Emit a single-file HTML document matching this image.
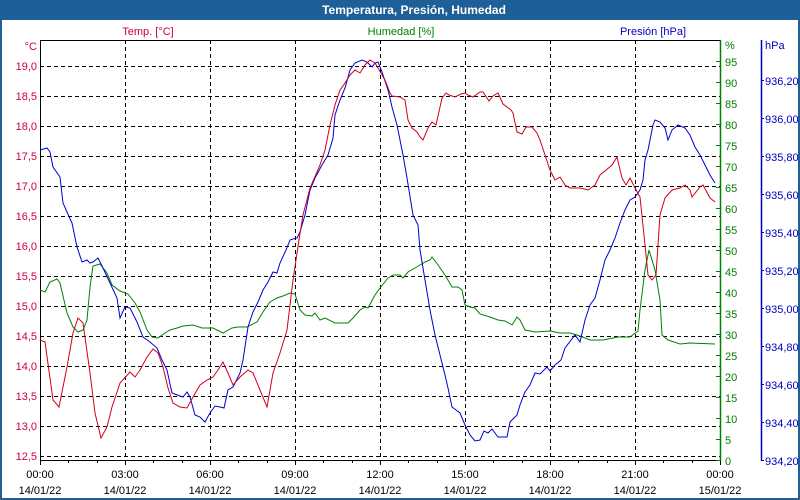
<!DOCTYPE html>
<html><head><meta charset="utf-8"><style>
html,body{margin:0;padding:0;background:#fff;}
svg{display:block;font-family:"Liberation Sans",sans-serif;}
</style></head><body>
<svg width="800" height="500" viewBox="0 0 800 500" xmlns="http://www.w3.org/2000/svg">
<rect x="0" y="0" width="800" height="500" fill="#fff"/>
<rect x="1" y="1" width="798" height="498" fill="none" stroke="#1f5f97" stroke-width="2"/>
<rect x="0" y="0" width="800" height="20" fill="#1f5f97"/>
<text x="414" y="14" fill="#fff" font-size="12" font-weight="bold" text-anchor="middle">Temperatura, Presión, Humedad</text>
<text x="148" y="35" fill="#d0003a" font-size="11" text-anchor="middle">Temp. [°C]</text>
<text x="401" y="35" fill="#008000" font-size="11" text-anchor="middle">Humedad [%]</text>
<text x="653" y="35" fill="#0000c0" font-size="11" text-anchor="middle">Presión [hPa]</text>
<g stroke="#000" stroke-width="1" stroke-dasharray="4,3" fill="none">
<path d="M40 66.5H720M40 96.5H720M40 126.5H720M40 156.5H720M40 186.5H720M40 216.5H720M40 246.5H720M40 276.5H720M40 306.5H720M40 336.5H720M40 366.5H720M40 396.5H720M40 426.5H720M40 456.5H720"/>
<path d="M125.5 40V460M210.5 40V460M295.5 40V460M380.5 40V460M465.5 40V460M550.5 40V460M635.5 40V460"/>
</g>
<path d="M40.5 40V460.5H720M40 40.5H720" stroke="#000" fill="none"/>
<g stroke="#000"><path d="M40.5 460v5M68.5 460v3M97.5 460v3M125.5 460v5M153.5 460v3M182.5 460v3M210.5 460v5M238.5 460v3M267.5 460v3M295.5 460v5M323.5 460v3M352.5 460v3M380.5 460v5M408.5 460v3M437.5 460v3M465.5 460v5M493.5 460v3M522.5 460v3M550.5 460v5M578.5 460v3M607.5 460v3M635.5 460v5M663.5 460v3M692.5 460v3M720.5 460v5"/></g>
<g fill="#d0003a" font-size="11" text-anchor="end">
<text x="37" y="50">°C</text>
<text x="37" y="70">19,0</text><text x="37" y="100">18,5</text><text x="37" y="130">18,0</text><text x="37" y="160">17,5</text><text x="37" y="190">17,0</text><text x="37" y="220">16,5</text><text x="37" y="250">16,0</text><text x="37" y="280">15,5</text><text x="37" y="310">15,0</text><text x="37" y="340">14,5</text><text x="37" y="370">14,0</text><text x="37" y="400">13,5</text><text x="37" y="430">13,0</text><text x="37" y="460">12,5</text>
</g>
<path d="M720.5 40V461" stroke="#008000" stroke-width="1.5"/>
<g stroke="#008000"><path d="M720 460.5h-4M720 439.5h-4M720 418.5h-4M720 397.5h-4M720 376.5h-4M720 355.5h-4M720 334.5h-4M720 313.5h-4M720 292.5h-4M720 271.5h-4M720 250.5h-4M720 229.5h-4M720 208.5h-4M720 187.5h-4M720 166.5h-4M720 145.5h-4M720 124.5h-4M720 103.5h-4M720 82.5h-4M720 61.5h-4"/></g>
<g fill="#008000" font-size="11">
<text x="725" y="49">%</text>
<text x="725" y="465">0</text><text x="725" y="444">5</text><text x="725" y="423">10</text><text x="725" y="402">15</text><text x="725" y="381">20</text><text x="725" y="360">25</text><text x="725" y="339">30</text><text x="725" y="318">35</text><text x="725" y="297">40</text><text x="725" y="276">45</text><text x="725" y="255">50</text><text x="725" y="234">55</text><text x="725" y="213">60</text><text x="725" y="192">65</text><text x="725" y="171">70</text><text x="725" y="150">75</text><text x="725" y="129">80</text><text x="725" y="108">85</text><text x="725" y="87">90</text><text x="725" y="66">95</text>
</g>
<path d="M761.5 40V461" stroke="#0000c0" stroke-width="1.5"/>
<g stroke="#0000c0"><path d="M761 460.5h3M761 422.5h3M761 384.5h3M761 346.5h3M761 308.5h3M761 270.5h3M761 232.5h3M761 194.5h3M761 156.5h3M761 118.5h3M761 80.5h3"/></g>
<g fill="#0000c0" font-size="11">
<text x="765" y="49">hPa</text>
<text x="765" y="465">934,20</text><text x="765" y="427">934,40</text><text x="765" y="389">934,60</text><text x="765" y="351">934,80</text><text x="765" y="313">935,00</text><text x="765" y="275">935,20</text><text x="765" y="237">935,40</text><text x="765" y="199">935,60</text><text x="765" y="161">935,80</text><text x="765" y="123">936,00</text><text x="765" y="85">936,20</text>
</g>
<g fill="#000" font-size="11" text-anchor="middle">
<text x="40" y="478">00:00</text><text x="40" y="494">14/01/22</text>
<text x="125" y="478">03:00</text><text x="125" y="494">14/01/22</text>
<text x="210" y="478">06:00</text><text x="210" y="494">14/01/22</text>
<text x="295" y="478">09:00</text><text x="295" y="494">14/01/22</text>
<text x="380" y="478">12:00</text><text x="380" y="494">14/01/22</text>
<text x="465" y="478">15:00</text><text x="465" y="494">14/01/22</text>
<text x="550" y="478">18:00</text><text x="550" y="494">14/01/22</text>
<text x="635" y="478">21:00</text><text x="635" y="494">14/01/22</text>
<text x="720" y="478">00:00</text><text x="720" y="494">15/01/22</text>
</g>
<polyline fill="none" stroke="#008000" stroke-width="1" points="40,290 45,292 50,282 57,279 60,283 67,313 73,327 78,332 83,330 87,320 90,287 93,266 100,264 107,273 112,285 120,291 128,294 135,303 140,312 147,330 152,337 158,338 165,333 170,330 177,328 183,326 193,325 202,328 213,328 223,333 232,328 238,327 247,327 257,322 263,312 270,302 277,298 283,296 290,293 295,294 300,310 305,315 312,316 315,313 320,320 325,318 335,323 348,323 353,318 360,310 365,307 368,308 375,295 380,288 388,278 393,275 400,275 403,278 408,272 415,268 420,265 425,262 430,260 432,257 438,265 445,275 452,287 458,287 462,290 465,305 470,307 475,308 480,314 490,317 498,320 505,321 512,325 517,317 520,320 525,330 535,332 550,331 560,333 570,333 580,336 590,340 603,340 618,337 630,337 638,331 640,310 645,270 649,250 655,270 660,300 662,335 668,340 680,344 690,343 715,344"/>
<polyline fill="none" stroke="#0000d0" stroke-width="1" points="40,150 47,148 50,152 53,167 60,177 63,203 67,212 72,223 77,247 82,262 87,260 90,263 93,262 98,258 103,268 110,283 117,298 120,318 125,307 130,308 137,322 143,337 150,342 157,348 162,360 167,370 172,393 180,396 183,397 187,392 190,397 195,415 200,417 205,422 210,413 215,406 220,407 224,408 228,390 233,387 240,373 243,360 248,327 253,312 258,302 263,290 268,282 273,272 277,273 280,263 286,250 290,240 293,239 297,238 300,232 305,215 310,190 315,178 322,165 328,155 333,138 335,115 340,100 345,88 350,70 355,63 362,60 367,62 372,67 375,63 378,62 382,72 388,90 392,107 397,125 400,140 403,155 407,178 413,215 418,225 420,250 425,280 430,310 435,335 440,355 445,375 448,388 452,407 460,413 465,425 470,435 475,441 480,440 484,431 488,433 492,429 498,437 507,437 510,422 517,415 520,405 525,392 530,385 535,373 540,374 547,367 550,371 555,365 561,360 565,348 575,335 580,342 585,320 590,305 595,298 600,280 605,260 610,250 615,238 620,223 625,210 630,200 635,197 640,190 643,180 645,160 648,150 650,140 653,125 655,120 660,122 665,128 668,140 672,130 678,125 685,128 690,135 695,147 700,155 705,165 710,175 715,183"/>
<polyline fill="none" stroke="#d0001a" stroke-width="1" points="40,340 45,342 53,400 59,407 67,367 73,333 78,318 83,323 90,373 95,413 101,438 107,427 112,407 120,383 130,372 135,377 140,370 147,357 153,349 158,353 163,367 168,388 173,403 180,407 187,408 193,397 200,385 207,380 213,377 218,370 223,362 228,373 233,385 240,377 248,370 253,373 260,390 267,407 273,373 280,353 287,330 293,280 299,240 303,215 310,188 320,165 325,150 330,125 335,105 340,90 345,83 350,75 355,70 360,73 365,65 370,60 375,63 378,68 382,75 385,80 390,93 392,96 400,97 405,100 408,120 412,128 417,132 420,137 423,140 428,128 432,122 436,125 440,107 442,98 446,93 449,95 455,97 461,94 465,93 468,95 473,97 480,92 483,92 489,101 493,96 498,93 503,104 511,110 513,113 517,132 522,134 526,127 532,127 537,133 540,140 545,155 550,170 555,180 560,177 565,185 570,188 580,188 588,190 595,185 600,175 605,171 612,165 617,157 622,178 626,185 630,178 635,188 640,197 645,245 648,275 652,280 656,275 660,215 665,198 672,190 680,188 685,185 690,190 692,197 700,187 703,185 710,198 715,202"/>
</svg>
</body></html>
